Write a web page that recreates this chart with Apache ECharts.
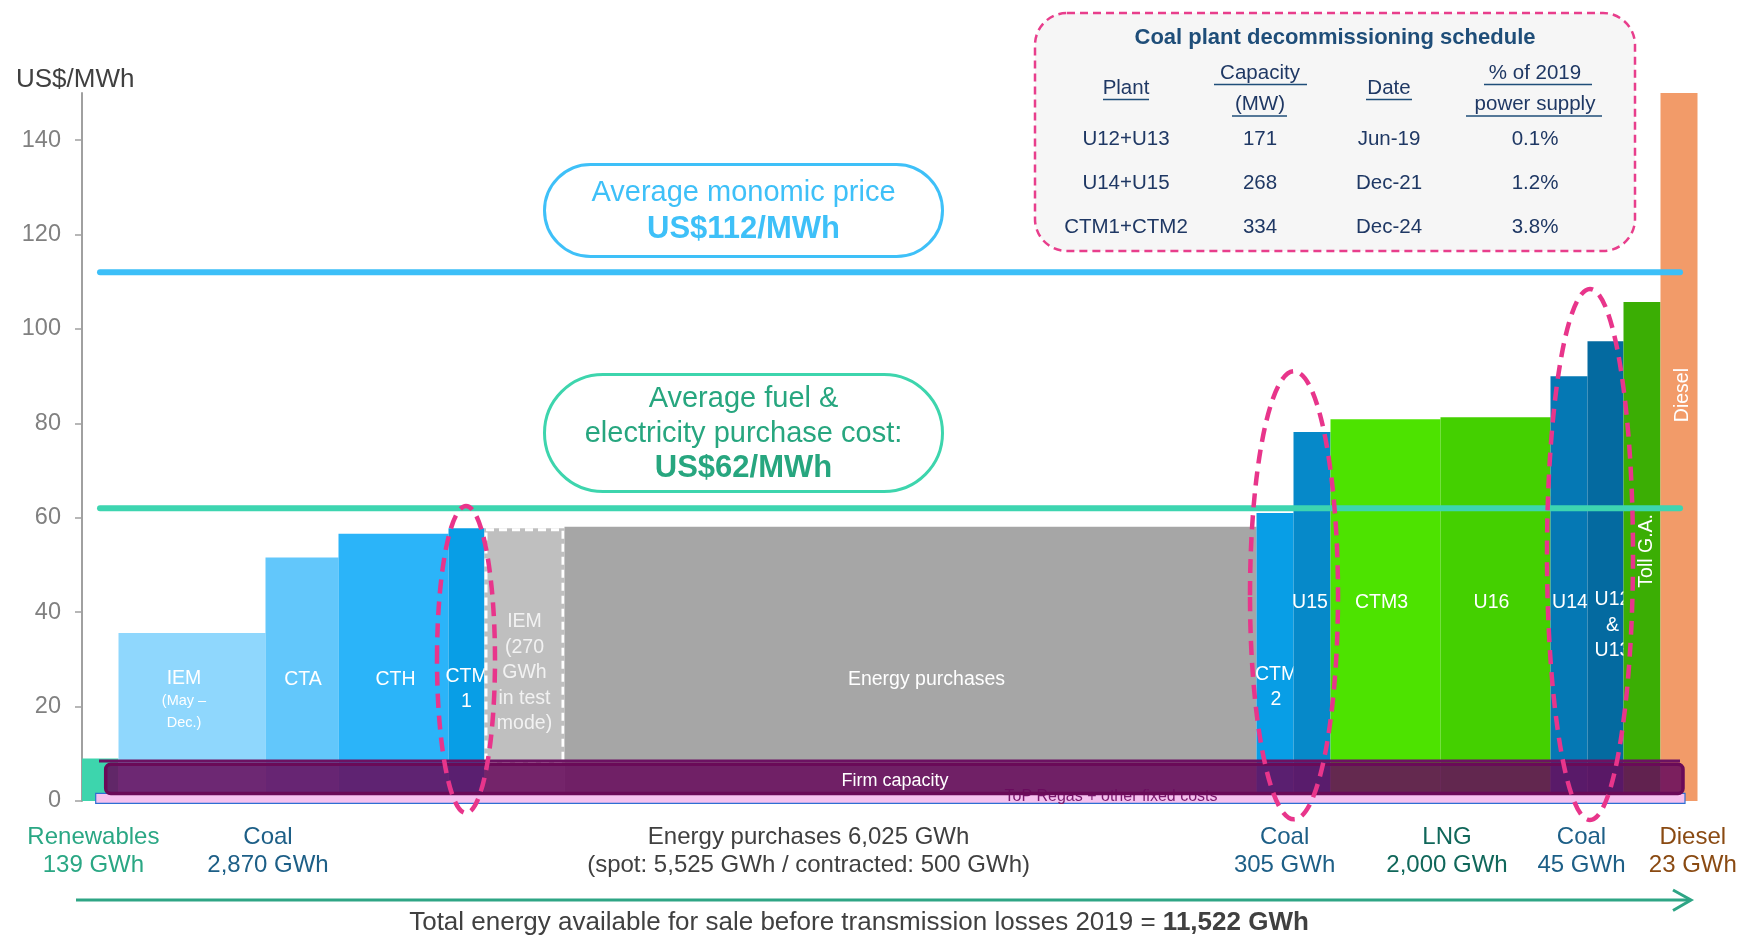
<!DOCTYPE html>
<html>
<head>
<meta charset="utf-8">
<script src="https://cdn.jsdelivr.net/npm/echarts@6/dist/echarts.min.js"></script>
<style>
  html, body { margin: 0; padding: 0; background: #ffffff; }
  #chart { width: 1744px; height: 937px; }
</style>
</head>
<body>
<div id="chart"></div>
<script>
// ---- Supply stack 2019: block widths (chart units) and costs (US$/MWh) ----
const blockNames = ['Renewables', 'IEM', 'CTA', 'CTH', 'CTM1', 'IEM test mode', 'Energy purchases',
  'CTM2', 'U15', 'CTM3', 'U16', 'U14', 'U12 & U13', 'Toll G.A.', 'Diesel'];
const blockWidths = [36.5, 147, 73, 110, 36, 80, 692, 37, 37, 110, 110, 37, 36, 37, 37];
const blockCosts = [9, 35.6, 51.6, 56.6, 57.8, 57.8, 58.1, 61, 78.2, 80.9, 81.3, 90, 97.4, 105.7, 150];
const blockLabels = ['', 'IEM', 'CTA', 'CTH', 'CTM\n1', 'IEM\n(270\nGWh\nin test\nmode)', 'Energy purchases',
  'CTM\n2', 'U15', 'CTM3', 'U16', 'U14', 'U12\n&\nU13', 'Toll G.A.', 'Diesel'];
const blockSubLabels = ['', '(May –\nDec.)', '', '', '', '', '', '', '', '', '', '', '', '', ''];

const yTicks = [0, 20, 40, 60, 80, 100, 120, 140];
const averageMonomicPrice = 112;
const averageFuelCost = 62;
const averageLineSpan = [18, 1598];

// fixed-cost layers along the bottom of the stack (US$/MWh)
const fixedCostBand = [-0.5, 1.6];
const fixedCostSpan = [13.7, 1603];
const firmCapacityBand = [1.6, 7.8];
const firmCapacitySpan = [23.7, 1601];
const firmCapacityCap = 8.5;
const firmCapacityCapSpan = [17, 1598];
const testModeFloor = 7.6;

// grouped volumes under the x axis
const groupTitles = ['Renewables', 'Coal', 'Energy purchases 6,025 GWh', 'Coal', 'LNG', 'Coal', 'Diesel'];
const groupVolumes = ['139 GWh', '2,870 GWh', '(spot: 5,525 GWh / contracted: 500 GWh)', '305 GWh', '2,000 GWh', '45 GWh', '23 GWh'];
const totalEnergyText = 'Total energy available for sale before transmission losses 2019 = ';
const totalEnergyValue = '11,522 GWh';

// decommissioning table
const scheduleHeaders = ['Plant', 'Capacity\n(MW)', 'Date', '% of 2019\npower supply'];
const schedulePlants = ['U12+U13', 'U14+U15', 'CTM1+CTM2'];
const scheduleCapacity = ['171', '268', '334'];
const scheduleDates = ['Jun-19', 'Dec-21', 'Dec-24'];
const scheduleShare = ['0.1%', '1.2%', '3.8%'];

// ---- styling ----
const FONT = '"Liberation Sans", Arial, Helvetica, sans-serif';
const blockColors = {
  'Renewables': '#3dd5ad', 'IEM': '#8fd7fd', 'CTA': '#62c7fb', 'CTH': '#2bb4f9', 'CTM1': '#089ee6',
  'IEM test mode': '#bfbfbf', 'Energy purchases': '#a6a6a6', 'CTM2': '#089ee6', 'U15': '#0689c9',
  'CTM3': '#4de300', 'U16': '#44d000', 'U14': '#0578b4', 'U12 & U13': '#046aa0',
  'Toll G.A.': '#3bae04', 'Diesel': '#f29b69'
};
// label anchor (value on the y scale), horizontal nudge in px, rotation
const labelLayout = {
  'IEM': { at: 26, dx: -8, subAt: 18.9 },
  'CTA': { at: 25.7, dx: 1 },
  'CTH': { at: 25.7, dx: 2 },
  'CTM1': { at: 23.7, dx: 0 },
  'IEM test mode': { at: 27.1, dx: 0, color: '#f2f2f2' },
  'Energy purchases': { at: 25.7, dx: 16 },
  'CTM2': { at: 24.1, dx: 1 },
  'U15': { at: 42, dx: -2 },
  'CTM3': { at: 42, dx: -4 },
  'U16': { at: 42, dx: -4 },
  'U14': { at: 42, dx: 1 },
  'U12 & U13': { at: 37.2, dx: 7 },
  'Toll G.A.': { at: 53, dx: 5, rotate: true },
  'Diesel': { at: 86, dx: 4, rotate: true }
};
const groupColors = ['#2aa784', '#1d5f87', '#404040', '#1d5f87', '#10675a', '#1d5f87', '#8a4a12'];
const groupCenters = [93.4, 268, 808.6, 1284.6, 1447, 1581.5, 1692.8];

const starts = [];
let acc = 0;
blockWidths.forEach(w => { starts.push(acc); acc += w; });
const blockData = blockNames.map((n, i) => [starts[i], starts[i] + blockWidths[i], blockCosts[i], i]);

function renderBlock(params, api) {
  const i = api.value(3);
  const name = blockNames[i];
  const x0 = api.value(0), x1 = api.value(1), v = api.value(2);
  const tl = api.coord([x0, v]);
  const br = api.coord([x1, 0]);
  const children = [{
    type: 'rect',
    shape: { x: tl[0], y: tl[1], width: br[0] - tl[0], height: br[1] - tl[1] },
    style: { fill: blockColors[name] }
  }];
  if (name === 'IEM test mode') {
    const fl = api.coord([x0, testModeFloor]);
    children.push({
      type: 'rect',
      shape: { x: tl[0] + 1.5, y: tl[1] + 1.5, width: br[0] - tl[0] - 3, height: fl[1] - tl[1] - 3 },
      style: { fill: 'none', stroke: '#ffffff', lineWidth: 3, lineDash: [8, 5] }
    });
  }
  const lay = labelLayout[name];
  if (lay && blockLabels[i]) {
    const cx = (tl[0] + br[0]) / 2 + lay.dx;
    const cy = api.coord([x0, lay.at])[1];
    children.push({
      type: 'text',
      x: cx, y: cy,
      rotation: lay.rotate ? Math.PI / 2 : 0,
      style: {
        text: blockLabels[i], fill: lay.color || '#ffffff',
        fontSize: 19.5, fontFamily: FONT, lineHeight: 25.5,
        align: 'center', verticalAlign: 'middle'
      }
    });
    if (blockSubLabels[i]) {
      children.push({
        type: 'text',
        x: cx, y: api.coord([x0, lay.subAt])[1],
        style: {
          text: blockSubLabels[i], fill: '#ffffff', fontSize: 14.5, fontFamily: FONT,
          lineHeight: 22, align: 'center', verticalAlign: 'middle'
        }
      });
    }
  }
  return { type: 'group', children };
}

function renderBands(params, api) {
  const pTL = api.coord([fixedCostSpan[0], fixedCostBand[1]]);
  const pBR = api.coord([fixedCostSpan[1], fixedCostBand[0]]);
  const fTL = api.coord([firmCapacitySpan[0], firmCapacityBand[1]]);
  const fBR = api.coord([firmCapacitySpan[1], firmCapacityBand[0]]);
  const c0 = api.coord([firmCapacityCapSpan[0], firmCapacityCap]);
  const c1 = api.coord([firmCapacityCapSpan[1], firmCapacityCap]);
  return {
    type: 'group',
    children: [
      { type: 'rect', shape: { x: pTL[0], y: pTL[1], width: pBR[0] - pTL[0], height: pBR[1] - pTL[1] },
        style: { fill: '#f5c1ef', stroke: '#2e6fd3', lineWidth: 1.2 } },
      { type: 'text', x: 1111, y: pTL[1] + 3,
        style: { text: 'ToP Regas + other fixed costs', fill: '#7a1a6e', fontSize: 16, fontFamily: FONT,
          align: 'center', verticalAlign: 'middle' } },
      { type: 'line', shape: { x1: c0[0], y1: c0[1], x2: c1[0], y2: c1[1] },
        style: { stroke: '#6c1262', lineWidth: 3 } },
      { type: 'rect', shape: { x: fTL[0], y: fTL[1], width: fBR[0] - fTL[0], height: fBR[1] - fTL[1], r: 5 },
        style: { fill: 'rgba(104,10,92,0.86)', stroke: '#6a0a58', lineWidth: 3.5 } },
      { type: 'text', x: 895, y: (fTL[1] + fBR[1]) / 2 + 2.5,
        style: { text: 'Firm capacity', fill: '#ffffff', fontSize: 18, fontFamily: FONT,
          align: 'center', verticalAlign: 'middle' } }
    ]
  };
}

// ---- overlay graphics: axis title, callouts, table, group captions ----
const graphics = [];
graphics.push({ type: 'text', x: 16, y: 80, style: { text: 'US$/MWh', fill: '#404040', fontSize: 26, fontFamily: FONT, verticalAlign: 'middle' } });

// average price callouts
function pill(y0, h, stroke) {
  return { type: 'rect', z: 100, shape: { x: 544.5, y: y0, width: 398, height: h, r: h / 2 },
    style: { fill: '#ffffff', stroke: stroke, lineWidth: 3 } };
}
function pillText(text, y, color, bold, size) {
  return { type: 'text', z: 101, x: 743.5, y: y,
    style: { text: text, fill: color, fontSize: size, fontWeight: bold ? 'bold' : 'normal', fontFamily: FONT,
      align: 'center', verticalAlign: 'middle' } };
}
graphics.push(pill(164.5, 92, '#3ec0f8'));
graphics.push(pillText('Average monomic price', 192.5, '#3ec0f8', false, 29));
graphics.push(pillText('US$112/MWh', 229.5, '#3ec0f8', true, 31));
graphics.push(pill(374.5, 117, '#3dd5ad'));
graphics.push(pillText('Average fuel &', 398.5, '#27a67f', false, 29));
graphics.push(pillText('electricity purchase cost:', 433.5, '#27a67f', false, 29));
graphics.push(pillText('US$62/MWh', 468.5, '#27a67f', true, 31));

// decommissioning callout rings
[[466, 659.5, 29, 153.5], [1294, 595.3, 44, 224], [1590, 554.5, 43, 265.5]].forEach(e => {
  graphics.push({ type: 'ellipse', z: 110, shape: { cx: e[0], cy: e[1], rx: e[2], ry: e[3] },
    style: { fill: 'none', stroke: '#e8358b', lineWidth: 4.5, lineDash: [14, 8] } });
});

// decommissioning schedule table
graphics.push({ type: 'rect', z: 100, shape: { x: 1035, y: 13, width: 600, height: 238, r: 32 },
  style: { fill: '#f6f6f6', stroke: '#e83e8c', lineWidth: 2.5, lineDash: [8, 5] } });
graphics.push({ type: 'text', z: 101, x: 1335, y: 37.5,
  style: { text: 'Coal plant decommissioning schedule', fill: '#1f4e79', fontSize: 22, fontWeight: 'bold',
    fontFamily: FONT, align: 'center', verticalAlign: 'middle' } });
const colX = [1126, 1260, 1389, 1535];
function tableText(text, x, y, size) {
  return { type: 'text', z: 101, x: x, y: y,
    style: { text: text, fill: '#1f3864', fontSize: size, fontFamily: FONT, align: 'center', verticalAlign: 'middle' } };
}
function underline(x1, x2, y) {
  return { type: 'line', z: 101, shape: { x1: x1, y1: y, x2: x2, y2: y }, style: { stroke: '#1f4e79', lineWidth: 1.6 } };
}
scheduleHeaders.forEach((h, c) => {
  const lines = h.split('\n');
  if (lines.length === 1) {
    graphics.push(tableText(lines[0], colX[c], 88, 20.5));
  } else {
    graphics.push(tableText(lines[0], colX[c], 73, 20.5));
    graphics.push(tableText(lines[1], colX[c], 104.5, 20.5));
  }
});
graphics.push(underline(1103, 1149, 99.5));
graphics.push(underline(1214, 1307, 84.5));
graphics.push(underline(1232, 1287, 116));
graphics.push(underline(1366, 1412, 99.5));
graphics.push(underline(1484, 1592, 84.5));
graphics.push(underline(1466, 1602, 116));
const rowY = [139.5, 183.5, 227.5];
schedulePlants.forEach((p, r) => {
  graphics.push(tableText(p, colX[0], rowY[r], 20.5));
  graphics.push(tableText(scheduleCapacity[r], colX[1], rowY[r], 20.5));
  graphics.push(tableText(scheduleDates[r], colX[2], rowY[r], 20.5));
  graphics.push(tableText(scheduleShare[r], colX[3], rowY[r], 20.5));
});

// captions beneath the stack
groupTitles.forEach((t, i) => {
  graphics.push({ type: 'text', x: groupCenters[i], y: 837.5,
    style: { text: t, fill: groupColors[i], fontSize: 24, fontFamily: FONT, align: 'center', verticalAlign: 'middle' } });
  graphics.push({ type: 'text', x: groupCenters[i], y: 865.5,
    style: { text: groupVolumes[i], fill: groupColors[i], fontSize: 24, fontFamily: FONT, align: 'center', verticalAlign: 'middle' } });
});
graphics.push({ type: 'line', shape: { x1: 76, y1: 900, x2: 1690, y2: 900 }, style: { stroke: '#2ea585', lineWidth: 3 } });
graphics.push({ type: 'polyline', shape: { points: [[1673, 890], [1691, 900], [1673, 910.5]] },
  style: { fill: 'none', stroke: '#2ea585', lineWidth: 3 } });
graphics.push({ type: 'text', x: 859, y: 923,
  style: { text: '{a|' + totalEnergyText + '}{b|' + totalEnergyValue + '}',
    align: 'center', verticalAlign: 'middle',
    rich: {
      a: { fontSize: 26, fontFamily: FONT, fill: '#404040' },
      b: { fontSize: 26, fontFamily: FONT, fill: '#404040', fontWeight: 'bold' }
    } } });

const chart = echarts.init(document.getElementById('chart'));
chart.setOption({
  animation: false,
  backgroundColor: '#ffffff',
  grid: { left: 82, top: 93, width: 1620, height: 708, containLabel: false },
  xAxis: { type: 'value', min: 0, max: 1620, show: false },
  yAxis: {
    type: 'value', min: 0, max: 150, interval: 20,
    splitLine: { show: false },
    axisLine: { show: true, lineStyle: { color: '#a0a0a0', width: 2 } },
    axisTick: { show: true, length: 7, lineStyle: { color: '#a0a0a0', width: 1.5 }, customValues: yTicks },
    axisLabel: { color: '#808080', fontSize: 23.5, fontFamily: FONT, margin: 21, customValues: yTicks }
  },
  series: [
    { type: 'custom', name: 'blocks', renderItem: renderBlock, data: blockData, z: 2, silent: true,
      encode: { x: [0, 1], y: 2 } },
    { type: 'custom', name: 'fixed costs', renderItem: renderBands, data: [[0, 0]], z: 3, silent: true },
    { type: 'line', name: 'Average monomic price', symbol: 'none', silent: true, z: 6,
      data: [[averageLineSpan[0], averageMonomicPrice], [averageLineSpan[1], averageMonomicPrice]],
      lineStyle: { color: '#3cbff8', width: 6, cap: 'round' } },
    { type: 'line', name: 'Average fuel & electricity purchase cost', symbol: 'none', silent: true, z: 6,
      data: [[averageLineSpan[0], averageFuelCost], [averageLineSpan[1], averageFuelCost]],
      lineStyle: { color: '#3dd5b0', width: 6, cap: 'round' } }
  ],
  graphic: { elements: graphics }
});
</script>
</body>
</html>
